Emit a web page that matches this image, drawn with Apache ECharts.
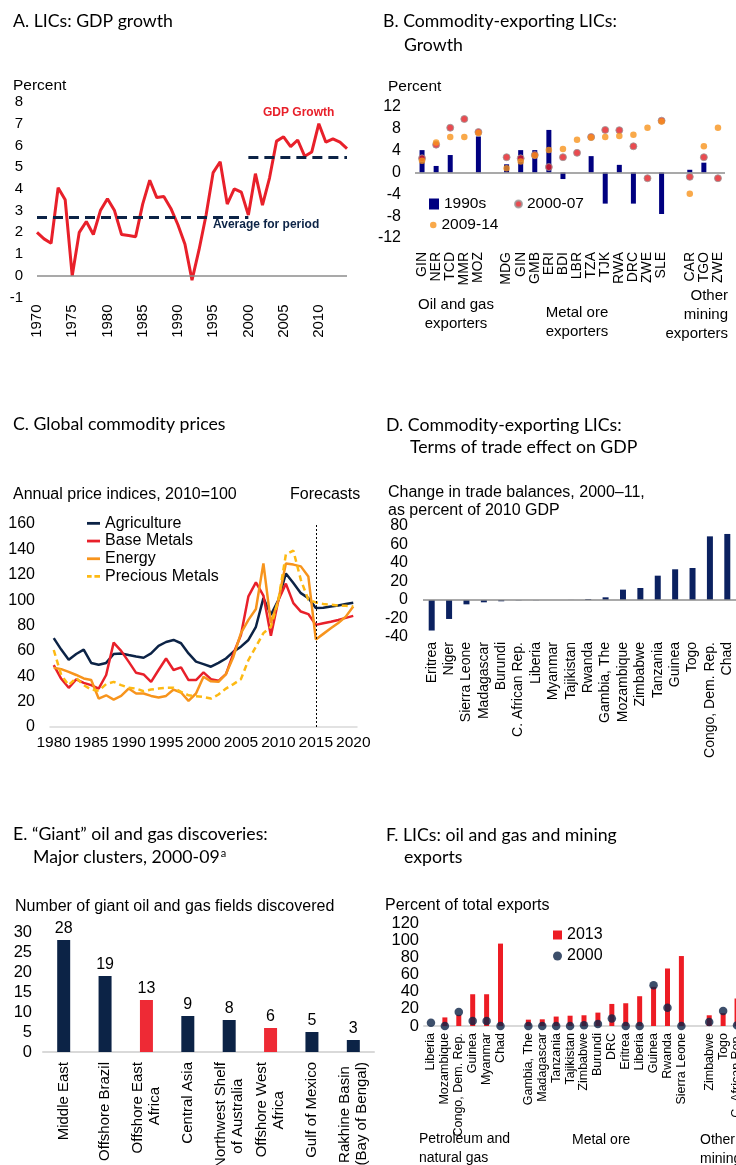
<!DOCTYPE html>
<html><head><meta charset="utf-8">
<script src="https://cdn.jsdelivr.net/npm/echarts@6/dist/echarts.min.js"></script>
<style>html,body{margin:0;padding:0;background:#fff}#c{width:736px;height:1165px}</style>
</head><body><div id="c"></div><script>
// ---------- Panel A: LICs GDP growth ----------
const gdpYears = ['1970','1971','1972','1973','1974','1975','1976','1977','1978','1979',
  '1980','1981','1982','1983','1984','1985','1986','1987','1988','1989',
  '1990','1991','1992','1993','1994','1995','1996','1997','1998','1999',
  '2000','2001','2002','2003','2004','2005','2006','2007','2008','2009',
  '2010','2011','2012','2013','2014'];
const gdpGrowth = [2.0,1.7,1.5,4.05,3.5,0.0,2.0,2.5,1.9,3.0,
  3.55,3.0,1.9,1.85,1.8,3.3,4.4,3.6,3.65,3.1,
  2.35,1.45,-0.2,1.2,2.8,4.75,5.25,3.3,4.0,3.85,
  2.8,4.7,3.25,4.5,6.2,6.4,5.95,6.25,5.5,5.7,
  7.0,6.15,6.3,6.15,5.85];
const avgPeriodStart = ['1970','2000'];
const avgPeriodEnd = ['2000','2014'];
const avgPeriodValue = [2.7,5.45];

// ---------- Panel B: commodity-exporting LICs growth ----------
const bCodes = ['GIN','NER','TCD','MMR','MOZ','','MDG','GIN','GMB','ERI','BDI','LBR','TZA','TJK','RWA','DRC','ZWE','SLE','','CAR','TGO','ZWE'];
const b1990s = [4.1,1.2,3.2,null,6.6,null,1.5,4.1,4.1,7.8,-1.2,null,3.0,-5.7,1.4,-5.7,null,-7.6,null,0.5,1.8,null];
const b2000_07 = [2.6,5.1,8.2,9.8,7.4,null,2.8,2.6,3.2,1.0,2.8,3.6,6.5,7.8,7.75,4.8,-1.05,9.5,null,-0.8,2.8,-1.05];
const b2009_14 = [2.15,5.5,6.5,6.5,7.25,null,0.8,2.0,3.1,4.1,4.3,6.0,6.4,6.5,6.7,6.9,8.2,9.35,null,-3.9,4.8,8.2];
const bGroupLabels = ['Oil and gas\nexporters','Metal ore\nexporters','Other\nmining\nexporters'];

// ---------- Panel C: global commodity prices ----------
const cYears = ['1980','1981','1982','1983','1984','1985','1986','1987','1988','1989',
  '1990','1991','1992','1993','1994','1995','1996','1997','1998','1999',
  '2000','2001','2002','2003','2004','2005','2006','2007','2008','2009',
  '2010','2011','2012','2013','2014','2015','2016','2017','2018','2019','2020'];
const cAgriculture = [70,61,53,57.5,61,50.5,49,50.5,57.5,58,
  56.7,55.5,54.6,58,64,67,68.6,66,58,51.5,
  49.6,47.5,50.5,54,59.4,63.3,68.6,79,101.6,88.4,
  100,121,113.5,105.5,101.6,93.7,94,95,95.8,97,98];
const cBaseMetals = [48.8,38,30.9,37.5,34.8,33,30.3,41,66.5,60,
  51.5,42.7,41.4,35.6,44.9,54,44.9,47,37,37,
  43,37.7,36.4,41.7,58,72.5,103,114,103.6,72,
  100,113,97.6,91,89,80.5,81.8,83,84.4,86,87.6];
const cEnergy = [46.7,45.6,43.5,41,38.3,37,22.4,25,21.6,24.5,
  30.3,26.4,26.4,24.5,23.2,24.5,29.5,27.2,20.6,26.4,
  39.6,36,35.6,41.7,55.4,74,84.4,93,129,81.8,
  100,128.8,128,126.6,118.7,69,73.4,77.8,82,87,95];
const cPreciousMetals = [60.7,41,33,38.8,33,29.5,28.5,33.8,35.6,33,
  31,30.3,28.2,29.5,30.3,30.9,30.9,27.7,25,24.3,
  23.7,22.4,25.6,30.3,33.8,37.7,52.8,63.3,74,79,
  100,136,139,116,100.3,98.2,97,96.4,95.8,95.5,95];
const cForecastStart = '2015';

// ---------- Panel D: terms of trade effect ----------
const dCountries = ['Eritrea','Niger','Sierra Leone','Madagascar','Burundi','C. African Rep.','Liberia','Myanmar','Tajikistan','Rwanda','Gambia, The','Mozambique','Zimbabwe','Tanzania','Guinea','Togo','Congo, Dem. Rep.','Chad'];
const dValues = [-33,-20.5,-4.7,-2.5,-1.4,-0.3,-0.2,0,0.1,1,2.9,11.2,13,26.3,33.2,34.6,68.8,71.4];

// ---------- Panel E: giant discoveries ----------
const eRegions = ['Middle East','Offshore Brazil','Offshore East\nAfrica','Central Asia','Northwest Shelf\nof Australia','Offshore West\nAfrica','Gulf of Mexico','Rakhine Basin\n(Bay of Bengal)'];
const eValues = [28,19,13,9,8,6,5,3];
const eHighlighted = ['Offshore East\nAfrica','Offshore West\nAfrica'];

// ---------- Panel F: oil, gas and mining exports ----------
const fCountries = ['Liberia','Mozambique','Congo, Dem. Rep.','Guinea','Myanmar','Chad','','Gambia, The','Madagascar','Tanzania','Tajikistan','Zimbabwe','Burundi','DRC','Eritrea','Liberia','Guinea','Rwanda','Sierra Leone','','Zimbabwe','Togo','C. African Rep.'];
const f2013 = [0,10,13,37,37,96,null,7.4,7.8,11,12,12.5,15.6,25.7,26.5,34.7,45.6,67,81.5,null,12.5,15,32];
const f2000 = [3.9,0,16.4,5.8,5.8,0,null,0,0,0,0,0.8,2.3,8.6,0,0,47.6,21.4,0,null,4.7,17.5,0.8];
const fGroupLabels = ['Petroleum and\nnatural gas','Metal ore','Other\nmining'];

// ---------- styling ----------
const FONT = '"Liberation Sans", Arial, sans-serif';
const TFONT = 'Lato, "Open Sans", sans-serif';
const NAVY = '#0c2346', RED = '#e8202a', ORANGE = '#f7941d', GOLD = '#fdb913', BLUE = '#000080', DNAVY = '#0b2160';
const GREY = '#8c8c8c', LGREY = '#d9d9d9';

const mctx = document.createElement('canvas').getContext('2d');
function centerLines(text, font) {
  const lines = text.split('\n');
  if (lines.length < 2) return text;
  mctx.font = font;
  const ws = lines.map(l => mctx.measureText(l).width);
  const mx = Math.max.apply(null, ws);
  const sp = mctx.measureText(' ').width;
  return lines.map((l, i) => l + ' '.repeat(Math.round((mx - ws[i]) / 2 / sp))).join('\n');
}

function yAx(gi, min, max, interval, fs, margin) {
  return {gridIndex: gi, type: 'value', min, max, interval,
    splitLine: {show: false}, axisLine: {show: false}, axisTick: {show: false},
    axisLabel: {fontSize: fs, margin, color: '#000', fontFamily: FONT}};
}
function xAx(gi, data, o) {
  return Object.assign({gridIndex: gi, type: 'category', data,
    axisLine: {show: false}, axisTick: {show: false},
    axisLabel: {interval: 0, rotate: 90, fontSize: 13.5, margin: 7, color: '#000', fontFamily: FONT}}, o || {});
}
function zeroLine() {
  return {silent: true, symbol: 'none', label: {show: false},
    lineStyle: {color: GREY, width: 1.5, type: 'solid'}, data: [{yAxis: 0}]};
}
function txt(x, y, text, font, fill, align) {
  return {type: 'text', x, y, silent: true,
    style: {text, font, fill: fill || '#000', textAlign: align || 'left', textVerticalAlign: 'middle', lineHeight: 19}};
}

const avgLines = avgPeriodValue.map((v, i) => [
  {coord: [avgPeriodStart[i], v], lineStyle: {color: NAVY, width: 3, type: [10, 6]}},
  {coord: [avgPeriodEnd[i], v]}
]);

const titleFont = '17.7px ' + TFONT;
mctx.font = titleFont;
const eSubW = mctx.measureText('Major clusters, 2000-09').width;

const solidIcon = 'path://M0,0h14v3h-14z';
const dashIcon = 'path://M0,0h5v3h-5zM8,0h6v3h-6z';

const chart = echarts.init(document.getElementById('c'), null, {renderer: 'canvas'});
chart.setOption({
  animation: false,
  textStyle: {fontFamily: FONT, color: '#000'},
  grid: [
    {left: 37, top: 102, width: 310, height: 195.5},
    {left: 415, top: 107, width: 310, height: 131},
    {left: 50, top: 524, width: 307, height: 203},
    {left: 423, top: 526, width: 313, height: 111},
    {left: 43, top: 932, width: 331, height: 120},
    {left: 424, top: 923, width: 320, height: 103}
  ].map(g => Object.assign({containLabel: false, outerBoundsMode: 'none'}, g)),
  legend: [
    {data: [{name: '1990s', icon: 'rect'}], left: 429, top: 195, padding: 0, itemWidth: 10, itemHeight: 11, selectedMode: false,
      textStyle: {fontSize: 15.5, lineHeight: 18, color: '#000', fontFamily: FONT}},
    {data: [{name: '2000-07', icon: 'circle'}], left: 514, top: 195, padding: 0, itemWidth: 7, itemHeight: 7, selectedMode: false,
      textStyle: {fontSize: 15.5, lineHeight: 18, color: '#000', fontFamily: FONT}},
    {data: [{name: '2009-14', icon: 'circle'}], left: 430, top: 216, padding: 0, itemWidth: 6.5, itemHeight: 6.5, selectedMode: false,
      textStyle: {fontSize: 15.5, lineHeight: 18, color: '#000', fontFamily: FONT}},
    {data: [{name: 'Agriculture', icon: solidIcon}, {name: 'Base Metals', icon: solidIcon},
            {name: 'Energy', icon: solidIcon}, {name: 'Precious Metals', icon: dashIcon}],
      orient: 'vertical', left: 87, top: 514.5, padding: 0,
      itemWidth: 13, itemHeight: 3, itemGap: 0, selectedMode: false,
      textStyle: {fontSize: 16, lineHeight: 17.7, color: '#000', fontFamily: FONT}},
    {data: [{name: '2013', icon: 'rect'}, {name: '2000', icon: 'circle'}], orient: 'vertical', left: 553, top: 924.5, padding: 0,
      itemWidth: 9, itemHeight: 9, itemGap: 0, selectedMode: false,
      textStyle: {fontSize: 16, lineHeight: 21, color: '#000', fontFamily: FONT}}
  ],
  xAxis: [
    xAx(0, gdpYears, {boundaryGap: false, axisLabel: {interval: 4, rotate: 90, fontSize: 15, margin: 7, color: '#000', fontFamily: FONT}}),
    xAx(1, bCodes, {axisLabel: {interval: 0, rotate: 90, fontSize: 14, margin: 14, color: '#000', fontFamily: FONT}}),
    xAx(2, cYears, {axisLine: {show: true, lineStyle: {color: LGREY, width: 1.5}},
      axisLabel: {interval: 4, fontSize: 15.5, margin: 8, color: '#000', fontFamily: FONT}}),
    xAx(3, dCountries, {axisLabel: {interval: 0, rotate: 90, fontSize: 14, margin: 5, color: '#000', fontFamily: FONT}}),
    xAx(4, eRegions, {axisLine: {show: true, lineStyle: {color: LGREY, width: 2}},
      axisLabel: {interval: 0, rotate: 90, fontSize: 15, margin: 10, color: '#000', fontFamily: FONT, lineHeight: 17,
        formatter: v => centerLines(v, '15px "Liberation Sans"')}}),
    xAx(5, fCountries, {axisLine: {show: true, lineStyle: {color: LGREY, width: 2}},
      axisLabel: {interval: 0, rotate: 90, fontSize: 12.5, margin: 7, color: '#000', fontFamily: FONT}})
  ],
  yAxis: [
    yAx(0, -1, 8, 1, 15, 14),
    yAx(1, -12, 12, 4, 16, 14),
    yAx(2, 0, 160, 20, 16, 15),
    yAx(3, -40, 80, 20, 16, 15),
    yAx(4, 0, 30, 5, 16.5, 11),
    yAx(5, 0, 120, 20, 16.5, 5)
  ],
  series: [
    // A
    {name: 'GDP growth', type: 'line', xAxisIndex: 0, yAxisIndex: 0, data: gdpGrowth, symbol: 'none',
      lineStyle: {color: RED, width: 3}, itemStyle: {color: RED},
      markLine: {silent: true, symbol: 'none', label: {show: false},
        data: [{yAxis: 0, lineStyle: {color: GREY, width: 1.5, type: 'solid'}}].concat(avgLines)}},
    // B
    {name: '1990s', type: 'bar', xAxisIndex: 1, yAxisIndex: 1, data: b1990s, barWidth: 5, itemStyle: {color: BLUE}, markLine: zeroLine()},
    {name: '2000-07', type: 'scatter', xAxisIndex: 1, yAxisIndex: 1, data: b2000_07, symbolSize: 7,
      itemStyle: {color: '#e31e24', borderColor: '#9a9a9a', borderWidth: 1}},
    {name: '2009-14', type: 'scatter', xAxisIndex: 1, yAxisIndex: 1, data: b2009_14, symbolSize: 6.5,
      itemStyle: {color: ORANGE}},
    // C
    {name: 'Agriculture', type: 'line', xAxisIndex: 2, yAxisIndex: 2, data: cAgriculture, symbol: 'none',
      lineStyle: {color: NAVY, width: 2.5}, itemStyle: {color: NAVY},
      markLine: {silent: true, symbol: 'none', label: {show: false},
        lineStyle: {color: '#000', width: 1, type: [2, 2]}, data: [{xAxis: cForecastStart}]}},
    {name: 'Base Metals', type: 'line', xAxisIndex: 2, yAxisIndex: 2, data: cBaseMetals, symbol: 'none',
      lineStyle: {color: RED, width: 2.5}, itemStyle: {color: RED}},
    {name: 'Energy', type: 'line', xAxisIndex: 2, yAxisIndex: 2, data: cEnergy, symbol: 'none',
      lineStyle: {color: ORANGE, width: 2.5}, itemStyle: {color: ORANGE}},
    {name: 'Precious Metals', type: 'line', xAxisIndex: 2, yAxisIndex: 2, data: cPreciousMetals, symbol: 'none',
      lineStyle: {color: GOLD, width: 2.5, type: [6, 4]}, itemStyle: {color: GOLD}},
    // D
    {name: 'Trade balance change', type: 'bar', xAxisIndex: 3, yAxisIndex: 3, data: dValues, barWidth: 6,
      itemStyle: {color: DNAVY}, markLine: zeroLine()},
    // E
    {name: 'Giant fields', type: 'bar', xAxisIndex: 4, yAxisIndex: 4, data: eValues, barWidth: 13,
      itemStyle: {color: p => eHighlighted.indexOf(p.name) >= 0 ? '#ee2a35' : NAVY},
      label: {show: true, position: 'top', distance: 3, fontSize: 16, color: '#000', fontFamily: FONT}},
    // F
    {name: '2013', type: 'bar', xAxisIndex: 5, yAxisIndex: 5, data: f2013, barWidth: 5, itemStyle: {color: '#ed1c24'}},
    {name: '2000', type: 'scatter', xAxisIndex: 5, yAxisIndex: 5, data: f2000, symbolSize: 8.5, itemStyle: {color: NAVY}, z: 3}
  ],
  graphic: {elements: [
    txt(13, 21, 'A. LICs: GDP growth', titleFont),
    txt(383, 21, 'B. Commodity-exporting LICs:', titleFont),
    txt(404, 45, 'Growth', titleFont),
    txt(13, 424, 'C. Global commodity prices', titleFont),
    txt(386, 425, 'D. Commodity-exporting LICs:', titleFont),
    txt(410, 447, 'Terms of trade effect on GDP', titleFont),
    txt(13, 834, 'E. \u201cGiant\u201d oil and gas discoveries:', titleFont),
    txt(33, 857, 'Major clusters, 2000-09', titleFont),
    txt(33 + eSubW + 1, 853, 'a', '11px ' + TFONT),
    txt(386, 835, 'F. LICs: oil and gas and mining', titleFont),
    txt(404, 857, 'exports', titleFont),

    txt(13, 86, 'Percent', '15.5px ' + FONT),
    txt(263, 113, 'GDP Growth', 'bold 12px ' + FONT, RED),
    txt(213, 225, 'Average for period', 'bold 12px ' + FONT, NAVY),

    txt(388, 87, 'Percent', '15.5px ' + FONT),
    txt(456, 314, bGroupLabels[0], '15px ' + FONT, '#000', 'center'),
    txt(577, 322, bGroupLabels[1], '15px ' + FONT, '#000', 'center'),
    txt(728, 315, bGroupLabels[2], '15px ' + FONT, '#000', 'right'),

    txt(13, 495, 'Annual price indices, 2010=100', '16px ' + FONT),
    txt(290, 495, 'Forecasts', '16px ' + FONT),

    txt(388, 493, 'Change in trade balances, 2000\u201311,', '16px ' + FONT),
    txt(388, 511, 'as percent of 2010 GDP', '16px ' + FONT),

    txt(15, 907, 'Number of giant oil and gas fields discovered', '16px ' + FONT),

    txt(385, 906, 'Percent of total exports', '16px ' + FONT),
    txt(419, 1149, fGroupLabels[0], '14px ' + FONT),
    txt(572, 1140, fGroupLabels[1], '14px ' + FONT),
    txt(700, 1150, fGroupLabels[2], '14px ' + FONT)
  ]}
});
</script></body></html>
